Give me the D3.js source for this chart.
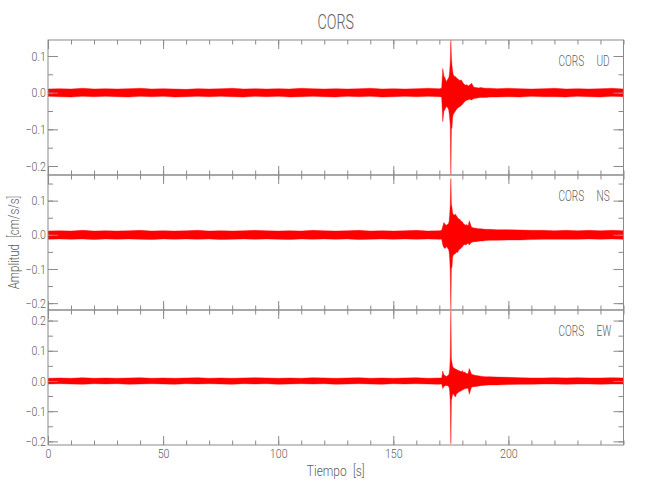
<!DOCTYPE html>
<html><head><meta charset="utf-8">
<script src="https://cdn.jsdelivr.net/npm/d3@7"></script>
<style>body{margin:0;background:#fff}svg{display:block}</style>
</head><body><svg id="c" width="650" height="500"></svg>
<script>
// ---------- DATA ----------
const title = "CORS";
const station = "CORS";
const components = ["UD", "NS", "EW"];
const xLabel = "Tiempo [s]";
const yLabel = "Amplitud [cm/s/s]";

// sample times [s] of the envelope readings
const time = [0,5,10,15,20,25,30,35,40,45,50,55,60,65,70,75,80,85,90,95,100,105,110,115,120,125,130,135,140,145,150,155,160,165,170,
  171,171.5,172,172.5,173,173.5,174,174.25,174.5,174.75,175,175.25,175.5,175.75,176,176.5,177,177.5,178,178.5,179,179.5,180,180.5,181,181.5,182,182.5,183,184,185,186,187,188,189,190,
  192,195,200,205,210,215,220,225,230,235,240,245,250];

// upper / lower envelope of each trace [cm/s/s]
const udHi = [.010,.011,.010,.012,.010,.011,.010,.011,.012,.010,.011,.010,.009,.011,.010,.011,.012,.010,.011,.010,.011,.010,.012,.011,.010,.011,.010,.011,.012,.010,.011,.010,.011,.012,.011,
  .012,.066,.045,.040,.030,.035,.040,.045,.060,.085,.143,.098,.075,.060,.050,.045,.044,.040,.038,.035,.033,.035,.030,.025,.022,.020,.022,.018,.020,.026,.015,.014,.013,.014,.013,.012,
  .012,.011,.012,.011,.010,.011,.012,.010,.011,.010,.011,.012,.010];
const udLo = [-.010,-.011,-.012,-.010,-.011,-.010,-.011,-.012,-.010,-.011,-.010,-.012,-.011,-.010,-.011,-.010,-.011,-.012,-.010,-.011,-.010,-.012,-.011,-.010,-.011,-.012,-.010,-.011,-.010,-.012,-.011,-.010,-.011,-.010,-.011,
  -.012,-.079,-.050,-.045,-.038,-.040,-.045,-.055,-.070,-.090,-.224,-.100,-.095,-.070,-.060,-.055,-.050,-.045,-.042,-.040,-.038,-.035,-.032,-.028,-.025,-.022,-.020,-.020,-.018,-.020,-.016,-.015,-.014,-.013,-.013,-.013,
  -.012,-.012,-.011,-.012,-.010,-.011,-.011,-.012,-.010,-.011,-.012,-.010,-.011];

const nsHi = [.011,.012,.011,.013,.011,.012,.011,.012,.013,.011,.012,.011,.012,.013,.011,.012,.011,.012,.013,.012,.011,.012,.011,.013,.012,.011,.012,.013,.011,.012,.011,.012,.013,.011,.012,
  .013,.025,.036,.031,.028,.030,.033,.040,.060,.090,.165,.090,.080,.065,.060,.058,.060,.055,.050,.046,.045,.040,.038,.032,.030,.028,.030,.026,.041,.022,.020,.019,.018,.018,.017,.016,
  .016,.015,.015,.014,.013,.013,.012,.013,.012,.013,.012,.013,.012];
const nsLo = [-.013,-.012,-.013,-.012,-.014,-.012,-.013,-.012,-.013,-.014,-.012,-.013,-.012,-.013,-.012,-.014,-.013,-.012,-.013,-.012,-.013,-.014,-.012,-.013,-.012,-.013,-.012,-.014,-.013,-.012,-.013,-.012,-.013,-.012,-.013,
  -.013,-.030,-.038,-.040,-.035,-.038,-.043,-.050,-.070,-.110,-.218,-.097,-.095,-.067,-.060,-.057,-.055,-.050,-.052,-.043,-.042,-.038,-.036,-.030,-.028,-.030,-.027,-.025,-.030,-.022,-.020,-.020,-.019,-.018,-.018,-.017,
  -.016,-.016,-.015,-.015,-.014,-.013,-.013,-.013,-.013,-.012,-.013,-.012,-.013];

const ewHi = [.009,.010,.009,.011,.009,.010,.009,.010,.011,.009,.010,.009,.010,.011,.009,.010,.009,.010,.011,.010,.009,.010,.009,.011,.010,.009,.010,.011,.009,.010,.009,.010,.011,.009,.010,
  .010,.033,.020,.018,.015,.017,.020,.025,.040,.080,.232,.074,.060,.050,.045,.042,.040,.038,.036,.034,.033,.030,.035,.028,.030,.026,.024,.025,.041,.022,.020,.018,.017,.016,.015,.014,
  .014,.013,.012,.011,.010,.010,.011,.010,.011,.010,.010,.011,.010];
const ewLo = [-.010,-.009,-.010,-.011,-.009,-.010,-.009,-.011,-.010,-.009,-.010,-.011,-.009,-.010,-.009,-.010,-.011,-.009,-.010,-.009,-.011,-.010,-.009,-.010,-.009,-.011,-.010,-.009,-.010,-.011,-.009,-.010,-.009,-.010,-.011,
  -.010,-.025,-.018,-.016,-.015,-.016,-.018,-.022,-.035,-.070,-.208,-.064,-.055,-.045,-.042,-.048,-.053,-.042,-.040,-.036,-.035,-.032,-.030,-.028,-.026,-.025,-.024,-.024,-.044,-.020,-.019,-.018,-.017,-.016,-.015,-.014,
  -.013,-.013,-.012,-.011,-.011,-.010,-.010,-.011,-.010,-.010,-.011,-.010,-.010];

// axis ranges and ticks
const xDomain = [0, 250];
const yDomains = [[-0.2245, 0.1436], [-0.22, 0.175], [-0.212, 0.235]];
const xMajorTicks = [0, 50, 100, 150, 200];
const xMinorTicks = [0,10,20,30,40,50,60,70,80,90,100,110,120,130,140,150,160,170,180,190,200,210,220,230,240,250];
const yMajorTicks = [-0.2, -0.1, 0.0, 0.1, 0.2];
const yMinorTicks = [-0.2,-0.15,-0.1,-0.05,0,0.05,0.1,0.15,0.2];

// ---------- DRAWING ----------
const series = [[udHi, udLo], [nsHi, nsLo], [ewHi, ewLo]];
const svg = d3.select("#c");
const FONT = "Roboto,'Liberation Sans',sans-serif";
const FW = 300;
const AX = "#8a8a8a", TX = "#606060";
const L = 48, R = 623.5, TOP0 = 40, PH = 135;

const x = d3.scaleLinear().domain(xDomain).range([L, R]);

function txt(g, px, py, s, size, sx, anchor, rot, ws) {
  return g.append("text")
    .attr("transform", `translate(${px},${py})` + (rot ? ` rotate(${rot})` : "") + ` scale(${sx},1)`)
    .attr("text-anchor", anchor).attr("font-family", FONT).attr("font-weight", FW)
    .attr("font-size", size).attr("word-spacing", ws || 0)
    .attr("fill", TX).text(s);
}

function styleAxis(g) {
  g.select(".domain").remove();
  g.selectAll("line").attr("stroke", AX).attr("stroke-width", 1);
}

components.forEach((comp, k) => {
  const top = TOP0 + k * PH, bot = top + PH;
  const dom = yDomains[k];
  const y = d3.scaleLinear().domain(dom).range([bot, top]);
  const inD = d => d >= dom[0] - 1e-9 && d <= dom[1] + 1e-9;
  const g = svg.append("g");

  const cid = "clip" + k;
  svg.append("clipPath").attr("id", cid).append("rect")
    .attr("x", L).attr("y", top).attr("width", R - L).attr("height", PH);

  const [hi, lo] = series[k];
  const data = time.map((t, i) => ({ t, hi: hi[i], lo: lo[i] }));
  const area = d3.area().x(d => x(d.t)).y0(d => y(d.lo)).y1(d => y(d.hi));
  g.append("path").datum(data).attr("clip-path", `url(#${cid})`)
    .attr("d", area).attr("fill", "#ff0000").attr("stroke", "#ff0000")
    .attr("stroke-width", 0.4).attr("stroke-linejoin", "round");

  const yMaj = yMajorTicks.filter(inD), yMin = yMinorTicks.filter(inD);
  g.append("g").attr("transform", `translate(${L},0)`).call(d3.axisRight(y).tickValues(yMin).tickSize(5).tickFormat("")).call(styleAxis);
  g.append("g").attr("transform", `translate(${L},0)`).call(d3.axisRight(y).tickValues(yMaj).tickSize(10).tickFormat("")).call(styleAxis);
  g.append("g").attr("transform", `translate(${R},0)`).call(d3.axisLeft(y).tickValues(yMin).tickSize(5).tickFormat("")).call(styleAxis);
  g.append("g").attr("transform", `translate(${R},0)`).call(d3.axisLeft(y).tickValues(yMaj).tickSize(10).tickFormat("")).call(styleAxis);
  g.append("g").attr("transform", `translate(0,${top})`).call(d3.axisBottom(x).tickValues(xMinorTicks).tickSize(4.5).tickFormat("")).call(styleAxis);
  g.append("g").attr("transform", `translate(0,${top})`).call(d3.axisBottom(x).tickValues(xMajorTicks).tickSize(9).tickFormat("")).call(styleAxis);
  g.append("g").attr("transform", `translate(0,${bot})`).call(d3.axisTop(x).tickValues(xMinorTicks).tickSize(4.5).tickFormat("")).call(styleAxis);
  g.append("g").attr("transform", `translate(0,${bot})`).call(d3.axisTop(x).tickValues(xMajorTicks).tickSize(9).tickFormat("")).call(styleAxis);

  g.append("rect").attr("x", L).attr("y", top).attr("width", R - L).attr("height", PH)
    .attr("fill", "none").attr("stroke", AX).attr("stroke-width", 1);

  const yl = g.append("g").attr("transform", `translate(${L},0)`)
    .call(d3.axisLeft(y).tickValues(yMaj).tickSize(0).tickPadding(2.5).tickFormat(d3.format(".1f")));
  yl.select(".domain").remove();
  yl.selectAll("text").attr("font-family", FONT).attr("font-weight", FW).attr("font-size", 13).attr("fill", TX)
    .attr("transform", "scale(0.82,1)");

  txt(g, 558.5, top + 26, station, 14, 0.72, "start");
  txt(g, 596.5, top + 26, comp, 14, 0.72, "start");

  if (k === components.length - 1) {
    const xl = g.append("g").attr("transform", `translate(0,${bot})`)
      .call(d3.axisBottom(x).tickValues(xMajorTicks).tickSize(0).tickPadding(3.3).tickFormat(d3.format("d")));
    xl.select(".domain").remove();
    xl.selectAll("text").attr("font-family", FONT).attr("font-weight", FW).attr("font-size", 13).attr("fill", TX)
      .attr("transform", "scale(0.82,1)");
  }
});

txt(svg, (L + R) / 2, 29, title, 21, 0.68, "middle");
txt(svg, (L + R) / 2, 476, xLabel, 14, 0.85, "middle", 0, 4);
txt(svg, 19, TOP0 + 1.5 * PH, yLabel, 14, 0.82, "middle", -90, 4);
</script></body></html>
